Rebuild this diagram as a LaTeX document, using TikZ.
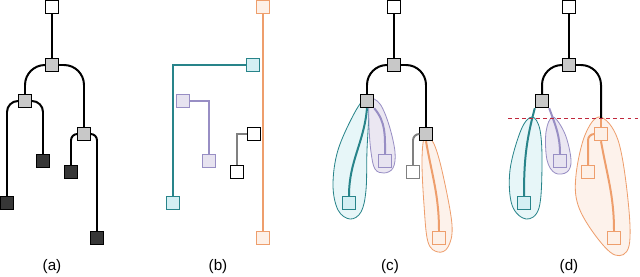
\documentclass[tikz,border=0pt]{standalone}
\usepackage{fontspec}
\setmainfont{Liberation Sans}
\usetikzlibrary{backgrounds}

\definecolor{nodegray}{RGB}{200,200,200}
\definecolor{leafdark}{RGB}{55,55,55}
\definecolor{linegray}{RGB}{128,128,128}
\definecolor{tealline}{RGB}{40,132,138}
\definecolor{tealfill}{RGB}{212,239,243}
\definecolor{purpleline}{RGB}{152,142,196}
\definecolor{purplefill}{RGB}{231,227,240}
\definecolor{orangeline}{RGB}{238,158,108}
\definecolor{orangefill}{RGB}{253,240,231}
\definecolor{cutred}{RGB}{192,40,60}

\begin{document}
\begin{tikzpicture}[
    x=0.3mm, y=-0.3mm,
    sq/.style={rectangle, draw, line width=1.2pt, minimum size=3.9mm,
               inner sep=0pt, fill=white},
    inner/.style={sq, fill=nodegray},
    leaf/.style={sq, fill=leafdark},
    graysq/.style={sq, draw=linegray},
    tealsq/.style={sq, draw=tealline, fill=tealfill},
    purplesq/.style={sq, draw=purpleline, fill=purplefill},
    orangesq/.style={sq, draw=orangeline, fill=orangefill},
    link/.style={line width=1.7pt},
    teallink/.style={link, draw=tealline},
    purplelink/.style={link, draw=purpleline},
    orangelink/.style={link, draw=orangeline},
    graylink/.style={link, draw=linegray},
    tealblob/.style={draw=tealline, fill=tealfill!55, line width=0.7pt},
    purpleblob/.style={draw=purpleline, fill=purplefill!85, line width=0.7pt},
    orangeblob/.style={draw=orangeline, fill=orangefill!85, line width=0.7pt},
    cut/.style={draw=cutred, dashed, line width=0.8pt},
    lbl/.style={font=\fontsize{13}{15}\selectfont},
]
    \useasboundingbox (0,0) rectangle (640,276);

    % --- (a) full tree ---
    \node[sq]    (a-root) at (52,7)    {};
    \node[inner] (a-n1)   at (52,65)   {};
    \node[inner] (a-n2)   at (25,101)  {};
    \node[inner] (a-n3)   at (84,134)  {};
    \node[leaf]  (a-l1)   at (7,203)   {};
    \node[leaf]  (a-l2)   at (43,161)  {};
    \node[leaf]  (a-l3)   at (71,172)  {};
    \node[leaf]  (a-l4)   at (97,238)  {};

    \draw[link] (a-root) -- (a-n1);
    \draw[link, rounded corners=6mm] (a-n1.west) -| (a-n2.north);
    \draw[link, rounded corners=6mm] (a-n1.east) -| (a-n3.north);
    \draw[link, rounded corners=3.3mm] (a-n2.west) -| (a-l1.north);
    \draw[link, rounded corners=3.3mm] (a-n2.east) -| (a-l2.north);
    \draw[link, rounded corners=1.9mm] (a-n3.west) -| (a-l3.north);
    \draw[link, rounded corners=1.9mm] (a-n3.east) -| (a-l4.north);

    \node[lbl] (a-lbl) at (52,267) {(a)};

    % --- (b) branches ---
    \node[orangesq] (b-otop) at (263,7)   {};
    \node[orangesq] (b-obot) at (263,238) {};
    \node[tealsq]   (b-ttop) at (253,65)  {};
    \node[tealsq]   (b-tbot) at (173,203) {};
    \node[purplesq] (b-ptop) at (183,101) {};
    \node[purplesq] (b-pbot) at (209,161) {};
    \node[sq]       (b-gtop) at (254,134) {};
    \node[sq]       (b-gbot) at (237,172) {};

    \draw[orangelink] (b-otop) -- (b-obot);
    \draw[teallink]   (b-ttop.west) -| (b-tbot.north);
    \draw[purplelink] (b-ptop.east) -| (b-pbot.north);
    \draw[graylink]   (b-gtop.west) -| (b-gbot.north);

    \node[lbl] (b-lbl) at (218,267) {(b)};

    % --- (c) tree with grouped leaves ---
    \begin{scope}[shift={(342,0)}]
        \begin{scope}[on background layer]
            \draw[tealblob] plot[smooth cycle, tension=0.6] coordinates
                {(25,97) (13,112) (-4,150) (-9,185) (-4,210) (8,219)
                 (19,212) (24,190) (25,150) (27,110)};
            \draw[purpleblob] plot[smooth cycle, tension=0.6] coordinates
                {(28,100) (38,104) (47,125) (53,152) (51,168) (42,173)
                 (33,169) (29,152) (27,125)};
            \draw[orangeblob] plot[smooth cycle, tension=0.6] coordinates
                {(83,136) (92,144) (101,175) (110,225) (106,247) (96,252)
                 (86,242) (82,205) (80,160)};
        \end{scope}

        \node[sq]       (c-root) at (52,7)    {};
        \node[inner]    (c-n1)   at (52,65)   {};
        \node[inner]    (c-n2)   at (25,101)  {};
        \node[inner]    (c-n3)   at (84,134)  {};
        \node[tealsq]   (c-l1)   at (7,203)   {};
        \node[purplesq] (c-l2)   at (43,161)  {};
        \node[graysq]   (c-l3)   at (71,172)  {};
        \node[orangesq] (c-l4)   at (97,238)  {};

        \draw[link] (c-root) -- (c-n1);
        \draw[link, rounded corners=6mm] (c-n1.west) -| (c-n2.north);
        \draw[link, rounded corners=6mm] (c-n1.east) -| (c-n3.north);
        \draw[teallink] (c-n2.south) to[out=-95, in=90] (c-l1.north);
        \draw[purplelink] (c-n2.south east) to[out=-50, in=90] (c-l2.north);
        \draw[graylink, rounded corners=1.9mm] (c-n3.west) -| (c-l3.north);
        \draw[orangelink] (c-n3.south) to[out=-80, in=90] (c-l4.north);

        \node[lbl] (c-lbl) at (48,267) {(c)};
    \end{scope}

    % --- (d) cut at a fixed height ---
    \begin{scope}[shift={(517,0)}]
        \begin{scope}[on background layer]
            \draw[tealblob] plot[smooth cycle, tension=0.6] coordinates
                {(15,117) (4,130) (-7,170) (-5,205) (9,219) (22,208)
                 (25,165) (23,130)};
            \draw[purpleblob] plot[smooth cycle, tension=0.6] coordinates
                {(36,117) (29,132) (30,160) (38,173) (50,172) (54,160)
                 (48,134)};
            \draw[orangeblob] plot[smooth cycle, tension=0.6] coordinates
                {(83,117) (68,135) (59,175) (61,205) (78,235) (98,255)
                 (112,246) (111,200) (101,140)};
        \end{scope}

        \node[sq]       (d-root) at (52,7)    {};
        \node[inner]    (d-n1)   at (52,65)   {};
        \node[inner]    (d-n2)   at (25,101)  {};
        \node[orangesq] (d-n3)   at (84,134)  {};
        \node[tealsq]   (d-l1)   at (7,203)   {};
        \node[purplesq] (d-l2)   at (43,161)  {};
        \node[orangesq] (d-l3)   at (71,172)  {};
        \node[orangesq] (d-l4)   at (97,238)  {};
        \coordinate (d-cut)  at (84,118);
        \coordinate (d-cutL) at (-9,118);
        \coordinate (d-cutR) at (123,118);

        \draw[link] (d-root) -- (d-n1);
        \draw[link, rounded corners=6mm] (d-n1.west) -| (d-n2.north);
        \draw[link, rounded corners=6mm] (d-n1.east) -| (d-cut);
        \draw[orangelink] (d-cut) -- (d-n3.north);
        \draw[teallink] (d-n2.south west) to[out=-105, in=90] (d-l1.north);
        \draw[purplelink] (d-n2.south east) to[out=-70, in=90] (d-l2.north);
        \draw[orangelink, rounded corners=1.9mm] (d-n3.west) -| (d-l3.north);
        \draw[orangelink] (d-n3.south) to[out=-80, in=90] (d-l4.north);
        \draw[cut] (d-cutL) -- (d-cutR);

        \node[lbl] (d-lbl) at (52,267) {(d)};
    \end{scope}
\end{tikzpicture}
\end{document}
